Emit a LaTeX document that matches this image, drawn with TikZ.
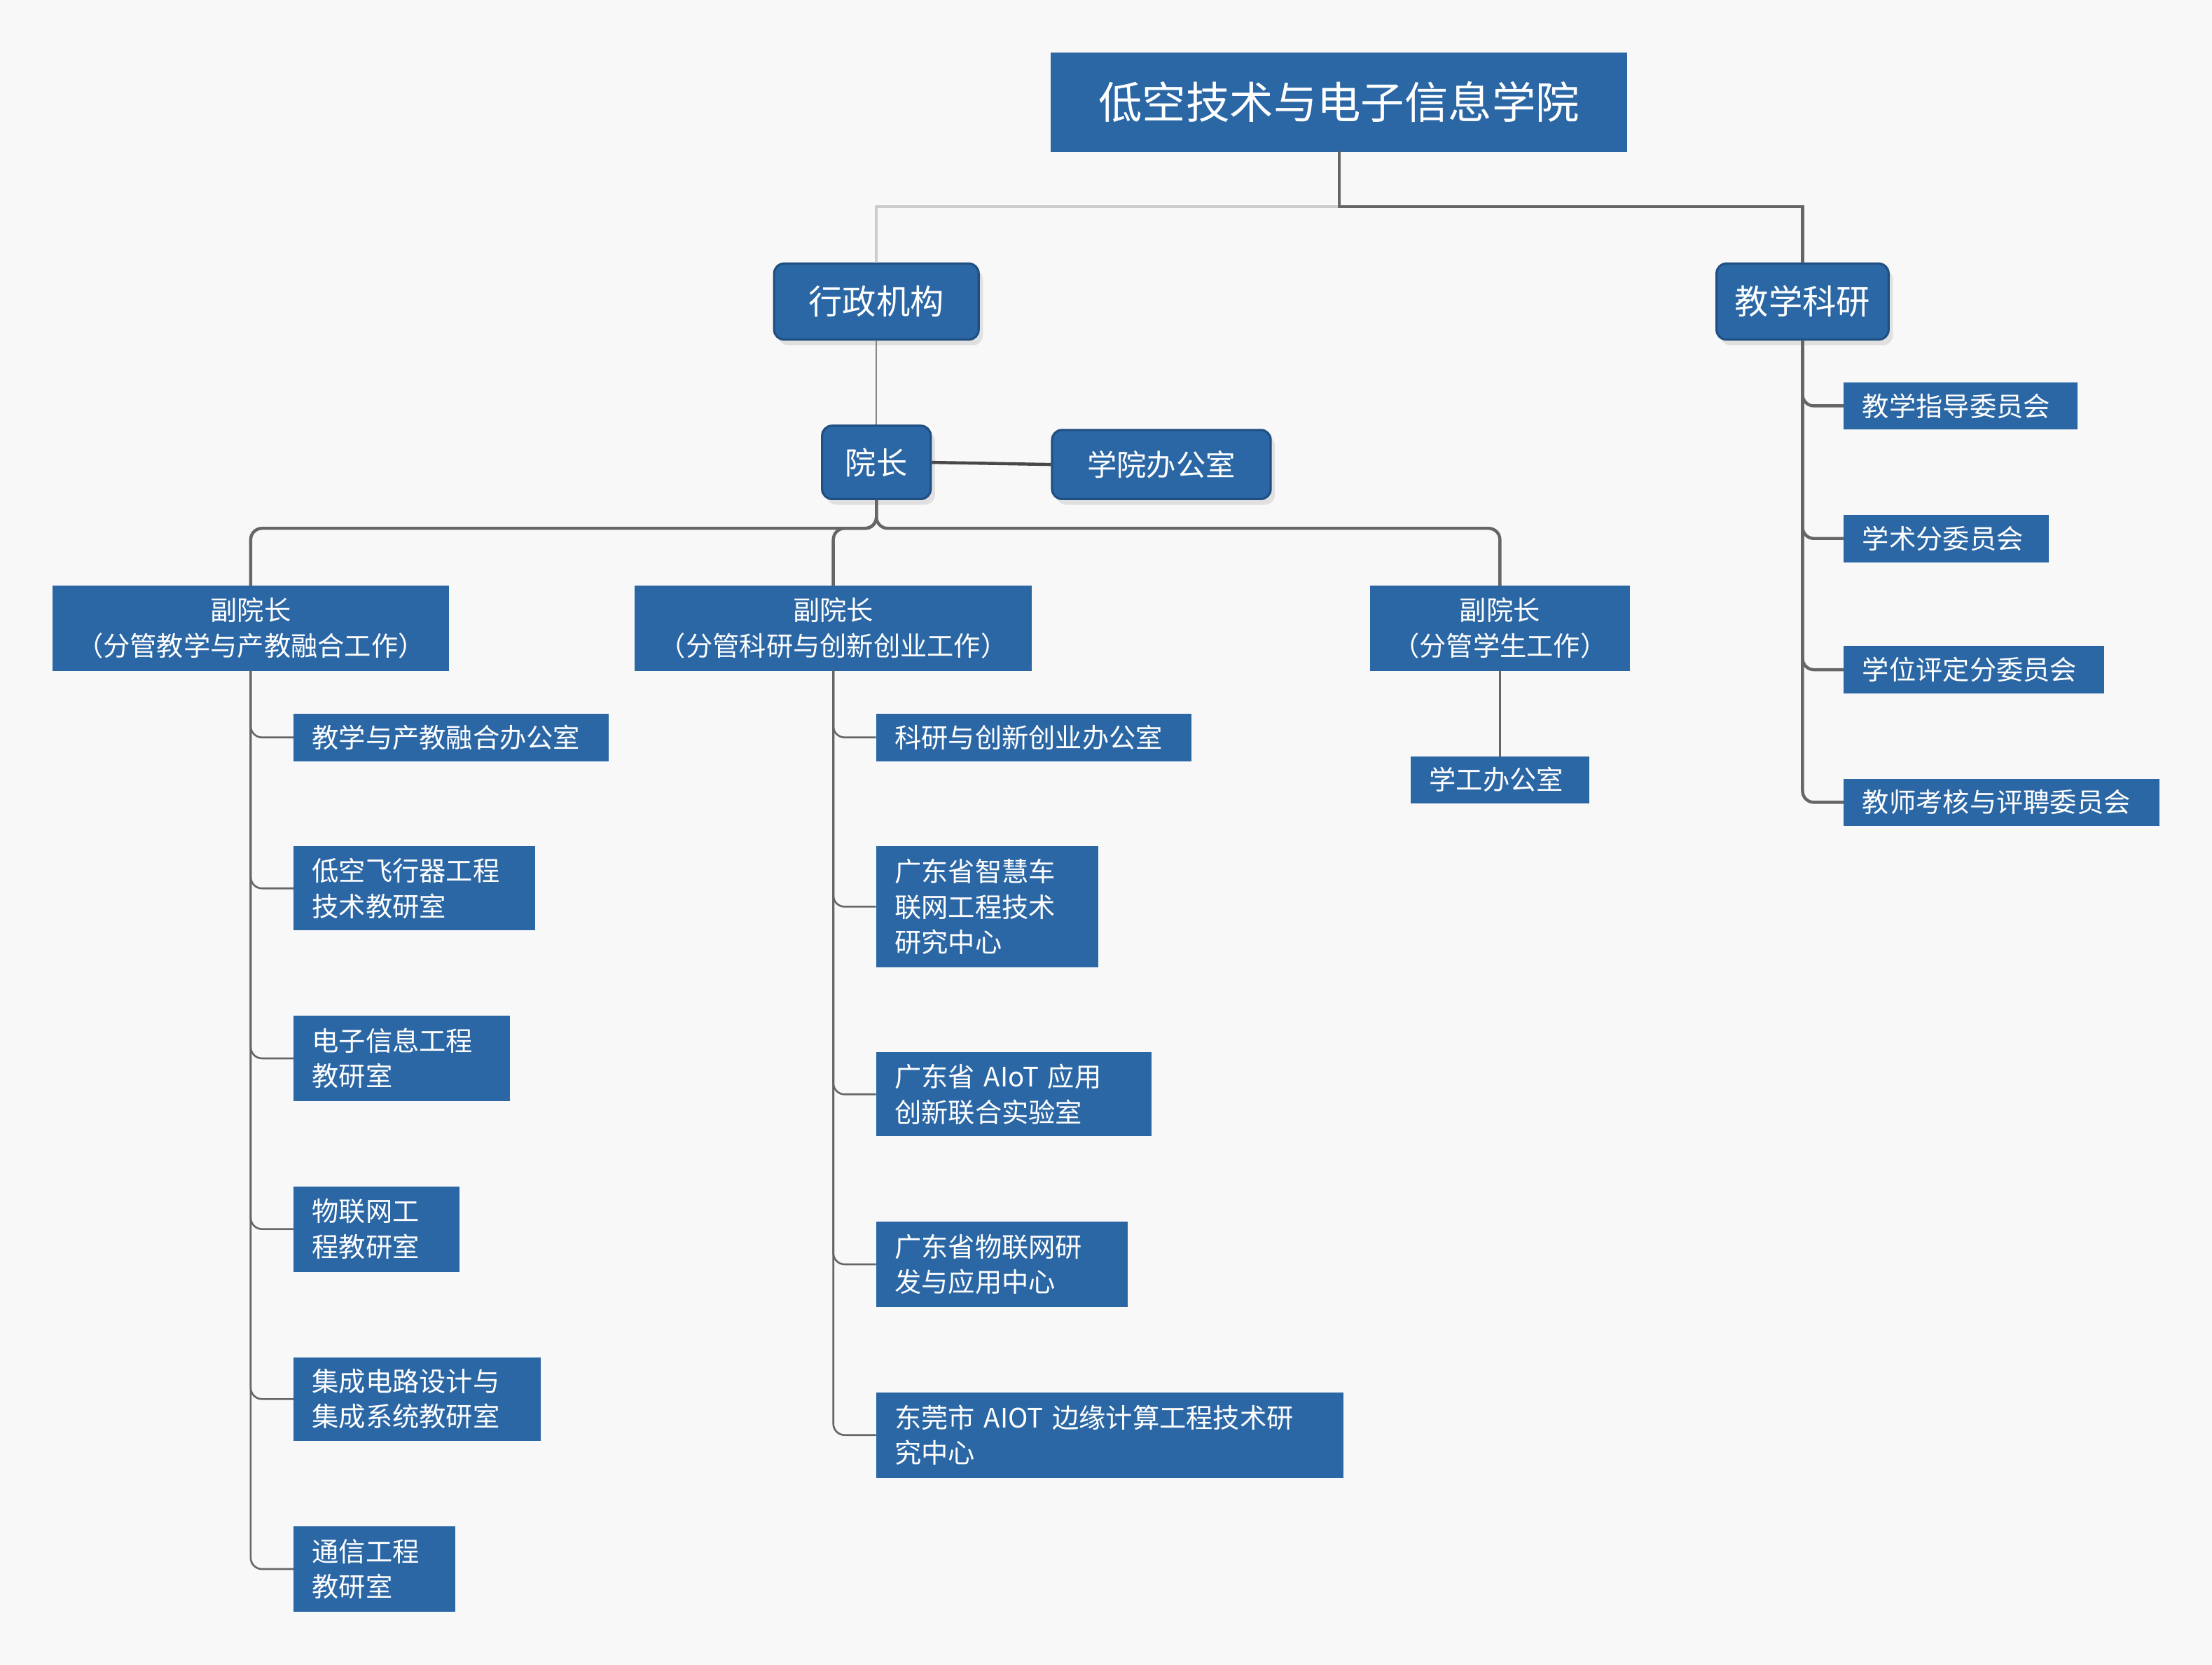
\documentclass[tikz,border=0pt]{standalone}
\usepackage{fontspec}
\setmainfont{Noto Sans CJK SC}
\usetikzlibrary{shadows}
\definecolor{bfill}{HTML}{2B67A5}
\definecolor{bdraw}{HTML}{1F4E80}
\definecolor{ln}{HTML}{666666}
\definecolor{bg}{HTML}{F8F8F8}
\tikzset{
 box/.style={fill=bfill,draw=bfill,text=white,anchor=north west,inner xsep=13pt,inner ysep=0pt,align=left,font=\fontsize{19}{25}\selectfont},
 cbox/.style={fill=bfill,draw=bfill,text=white,anchor=north west,inner sep=0pt,align=center,font=\fontsize{19}{25}\selectfont},
 rbox/.style={fill=bfill,draw=bdraw,line width=1.5pt,text=white,anchor=north west,inner sep=0pt,rounded corners=7pt,align=center,drop shadow={shadow xshift=3pt,shadow yshift=-4pt,fill=black!18,opacity=.6}},
 con/.style={draw=ln,line width=1.3pt,rounded corners=8pt},
 thk/.style={draw=ln,line width=2.2pt,rounded corners=8pt},
}
\newcommand\bx[6]{\node[box,text width=#4-#2-26pt,minimum height=#5-#3] (#1) at (#2,#3) {#6};}
\newcommand\cb[6]{\node[cbox,minimum width=#4-#2,minimum height=#5-#3] (#1) at (#2,#3) {#6};}
\begin{document}
\begin{tikzpicture}[x=1pt,y=-1pt]
\fill[bg] (0,0) rectangle (1568,1180);
\useasboundingbox (0,0) rectangle (1568,1180);
\node[cbox,minimum width=408,minimum height=70,font=\fontsize{31}{36}\selectfont] (t) at (745,37) {低空技术与电子信息学院};
\node[rbox,minimum width=145,minimum height=54,font=\fontsize{24}{28}\selectfont] (xz) at (548,186) {行政机构};
\node[rbox,minimum width=122,minimum height=54,font=\fontsize{24}{28}\selectfont] (jx) at (1216,186) {教学科研};
\node[rbox,minimum width=77,minimum height=52,font=\fontsize{22}{26}\selectfont] (yz) at (582,301) {院长};
\node[rbox,minimum width=155,minimum height=49,font=\fontsize{21}{26}\selectfont] (bgs) at (745,304) {学院办公室};
\cb{v1}{37}{415}{318}{475}{副院长\\（分管教学与产教融合工作）}
\cb{v2}{450}{415}{731}{475}{副院长\\（分管科研与创新创业工作）}
\cb{v3}{971}{415}{1155}{475}{副院长\\（分管学生工作）}
\bx{a1}{208}{506}{431}{539}{教学与产教融合办公室}
\bx{a2}{208}{600}{379}{659}{低空飞行器工程\\技术教研室}
\bx{a3}{208}{720}{361}{780}{电子信息工程\\教研室}
\bx{a4}{208}{841}{325}{901}{物联网工\\程教研室}
\bx{a5}{208}{962}{383}{1021}{集成电路设计与\\集成系统教研室}
\bx{a6}{208}{1082}{322}{1142}{通信工程\\教研室}
\bx{b1}{621}{506}{844}{539}{科研与创新创业办公室}
\bx{b2}{621}{600}{778}{685}{广东省智慧车\\联网工程技术\\研究中心}
\bx{b3}{621}{746}{816}{805}{广东省 AIoT 应用\\创新联合实验室}
\bx{b4}{621}{866}{799}{926}{广东省物联网研\\发与应用中心}
\bx{b5}{621}{987}{952}{1047}{东莞市 AIOT 边缘计算工程技术研\\究中心}
\bx{c1}{1000}{536}{1126}{569}{学工办公室}
\bx{d1}{1307}{271}{1472}{304}{教学指导委员会}
\bx{d2}{1307}{365}{1452}{398}{学术分委员会}
\bx{d3}{1307}{458}{1491}{491}{学位评定分委员会}
\bx{d4}{1307}{552}{1530}{585}{教师考核与评聘委员会}
% top
\draw[draw=black!20,line width=2.2pt] (t.south) -- ++(0,39) -| (xz.north);
\draw[thk,rounded corners=0pt] (t.south) -- ++(0,39) -| (jx.north);
\draw[con,line width=1pt,draw=ln!80] (xz.south) -- (yz.north);
\draw[thk,draw=ln!70!black] (yz.east) -- (bgs.west);
\foreach \v in {v1,v2,v3} \draw[thk] (yz.south) -- ++(0,20) -| (\v.north);
\foreach \b in {a1,a2,a3,a4,a5,a6} \draw[con] (v1.south) |- (\b.west);
\foreach \b in {b1,b2,b3,b4,b5} \draw[con] (v2.south) |- (\b.west);
\draw[con] (v3.south) -- (c1.north);
\foreach \b in {d1,d2,d3,d4} \draw[thk] (jx.south) |- (\b.west);
\end{tikzpicture}
\end{document}
